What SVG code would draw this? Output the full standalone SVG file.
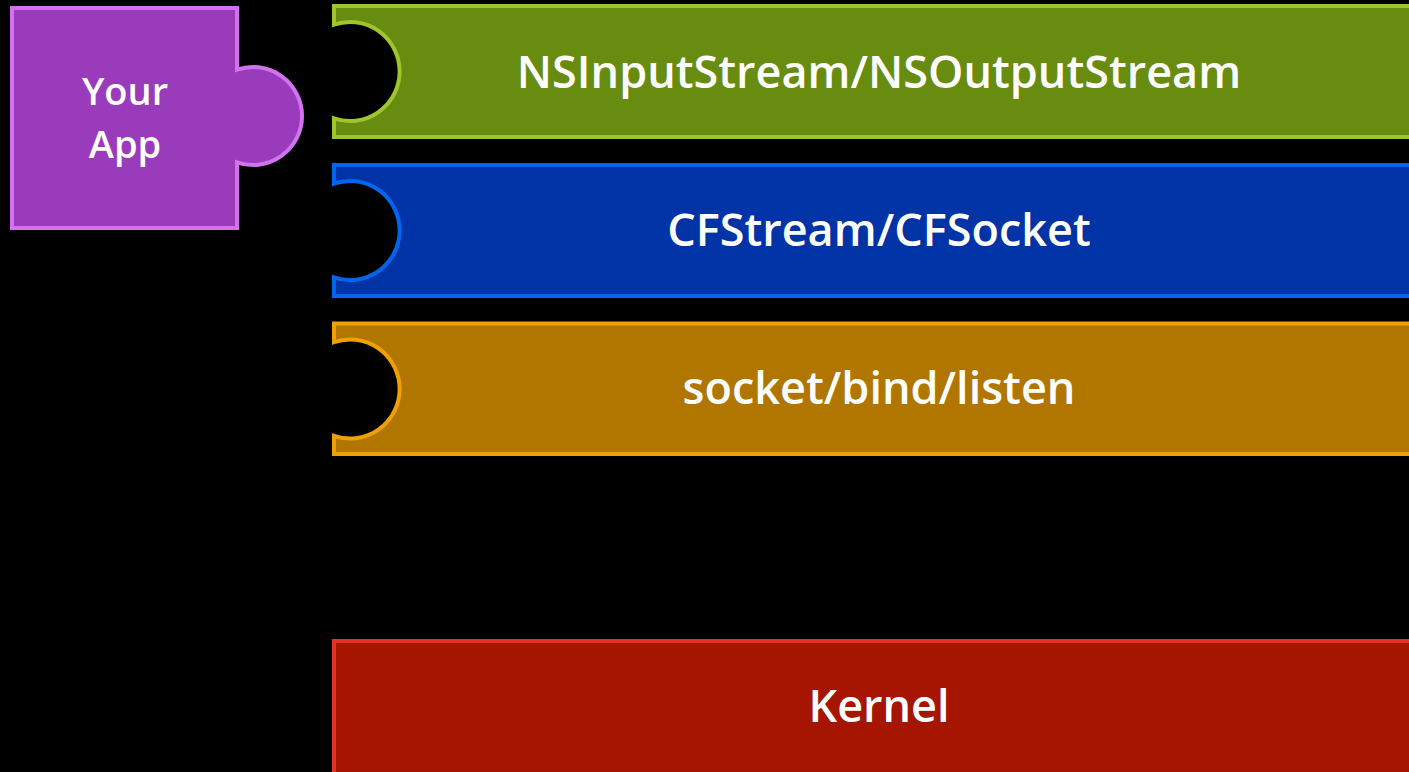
<svg xmlns="http://www.w3.org/2000/svg" width="1409" height="772" viewBox="0 0 1409 772">
<style>
.t{font-family:"Open Sans","Liberation Sans",sans-serif;font-weight:600;font-size:45px;fill:#ffffff;text-anchor:middle}
.s{font-size:38px}
.b{stroke-width:4}
</style>
<rect x="0" y="0" width="1409" height="772" fill="#000000"/>
<g id="your-app">
<path class="b" d="M12 8 H237 V69.7 A49 49 0 1 1 237 162.3 V228 H12 Z" fill="#9a3bbc" stroke="#d173ee"/>
<text class="t s" x="125" y="105">Your</text>
<text class="t s" x="125" y="158">App</text>
</g>
<g id="nsstream">
<path class="b" d="M1412 6 H334 V24.7 A49.5 49.5 0 1 1 334 118.3 V137 H1412" fill="#678c10" stroke="#9cc62c"/>
<text class="t" x="879" y="88">NSInputStream/NSOutputStream</text>
</g>
<g id="cfstream">
<path class="b" d="M1412 165 H334 V183.7 A49.5 49.5 0 1 1 334 277.3 V296 H1412" fill="#0033a6" stroke="#0066f0"/>
<text class="t" x="879" y="246">CFStream/CFSocket</text>
</g>
<g id="bsd">
<path class="b" d="M1412 323.5 H334 V342.2 A49.5 49.5 0 1 1 334 435.8 V454 H1412" fill="#b17600" stroke="#f0a000"/>
<text class="t" x="879" y="404">socket/bind/listen</text>
</g>
<g id="kernel">
<path class="b" d="M1412 641 H334 V775 H1412" fill="#a51500" stroke="#e63022"/>
<text class="t" x="879" y="722">Kernel</text>
</g>
<g id="connectors"></g>
</svg>
